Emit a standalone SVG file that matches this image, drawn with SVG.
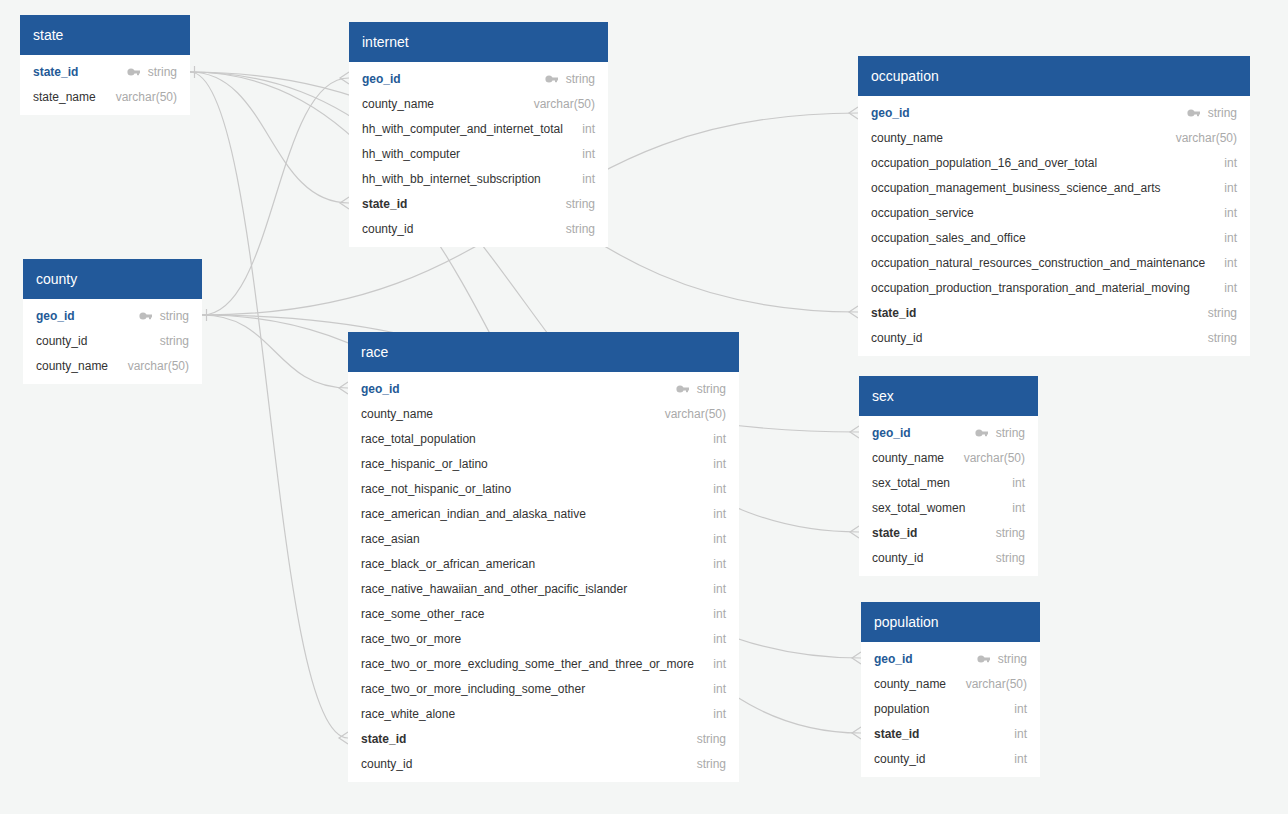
<svg xmlns="http://www.w3.org/2000/svg" xmlns:xlink="http://www.w3.org/1999/xlink" width="1288" height="814" viewBox="0 0 1288 814">
<style>
.bg{fill:#f4f6f5}
.hd{fill:#22599a}
.bd{fill:#ffffff}
.ht{font-family:"Liberation Sans",Arial,sans-serif;font-size:14px;fill:#ffffff}
.n{font-family:"Liberation Sans",Arial,sans-serif;font-size:12px;fill:#333333}
.pk{font-family:"Liberation Sans",Arial,sans-serif;font-size:12px;fill:#245a96;font-weight:bold}
.fk{font-family:"Liberation Sans",Arial,sans-serif;font-size:12px;fill:#333333;font-weight:bold}
.t{font-family:"Liberation Sans",Arial,sans-serif;font-size:12px;fill:#aaaaaa;text-anchor:end}
.c{fill:none;stroke:#c9c9c9;stroke-width:1.2}
</style>
<defs>
<g id="key" fill="#bdbdbd">
<circle cx="4" cy="0" r="3.6"/>
<rect x="6" y="-1.5" width="7" height="3"/>
<rect x="10" y="1" width="2" height="2.2"/>
</g>
<path id="foot" d="M0,-6 L-9,0 L0,6" fill="none" stroke="#c9c9c9" stroke-width="1.2"/>
</defs>
<rect class="bg" x="0" y="0" width="1288" height="814"/>

<g id="connectors">
<!-- state.state_id -->
<path class="c" d="M190,72 C269.5,72 269.5,203 349,203"/>
<path class="c" d="M190,72 C269,72 269,738 348,738"/>
<path class="c" d="M190,72 C524,72 524,312 858,312"/>
<path class="c" d="M190,72 C524.5,72 524.5,532 859,532"/>
<path class="c" d="M190,72 C525.5,72 525.5,733 861,733"/>
<line class="c" x1="194.5" y1="66" x2="194.5" y2="78"/>
<!-- county.geo_id -->
<path class="c" d="M202,315 C275.5,315 275.5,78 349,78"/>
<path class="c" d="M202,315 C275,315 275,388 348,388"/>
<path class="c" d="M202,315 C530,315 530,113 858,113"/>
<path class="c" d="M202,315 C530.5,315 530.5,432 859,432"/>
<path class="c" d="M202,315 C531.5,315 531.5,658 861,658"/>
<line class="c" x1="206.5" y1="309" x2="206.5" y2="321"/>
<use href="#foot" x="349" y="78"/>
<use href="#foot" x="349" y="203"/>
<use href="#foot" x="858" y="113"/>
<use href="#foot" x="858" y="312"/>
<use href="#foot" x="348" y="388"/>
<use href="#foot" x="348" y="738"/>
<use href="#foot" x="859" y="432"/>
<use href="#foot" x="859" y="532"/>
<use href="#foot" x="861" y="658"/>
<use href="#foot" x="861" y="733"/>
</g>

<g id="state" transform="translate(20,15)">
<rect class="bd" x="0" y="40" width="170" height="60"/>
<rect class="hd" x="0" y="0" width="170" height="40"/>
<text class="ht" x="13" y="25">state</text>
<text class="pk" x="13" y="61">state_id</text><use href="#key" x="107" y="57"/><text class="t" x="157" y="61">string</text>
<text class="n" x="13" y="86">state_name</text><text class="t" x="157" y="86">varchar(50)</text>
</g>

<g id="internet" transform="translate(349,22)">
<rect class="bd" x="0" y="40" width="259" height="185"/>
<rect class="hd" x="0" y="0" width="259" height="40"/>
<text class="ht" x="13" y="25">internet</text>
<text class="pk" x="13" y="61">geo_id</text><use href="#key" x="196" y="57"/><text class="t" x="246" y="61">string</text>
<text class="n" x="13" y="86">county_name</text><text class="t" x="246" y="86">varchar(50)</text>
<text class="n" x="13" y="111">hh_with_computer_and_internet_total</text><text class="t" x="246" y="111">int</text>
<text class="n" x="13" y="136">hh_with_computer</text><text class="t" x="246" y="136">int</text>
<text class="n" x="13" y="161">hh_with_bb_internet_subscription</text><text class="t" x="246" y="161">int</text>
<text class="fk" x="13" y="186">state_id</text><text class="t" x="246" y="186">string</text>
<text class="n" x="13" y="211">county_id</text><text class="t" x="246" y="211">string</text>
</g>

<g id="county" transform="translate(23,259)">
<rect class="bd" x="0" y="40" width="179" height="85"/>
<rect class="hd" x="0" y="0" width="179" height="40"/>
<text class="ht" x="13" y="25">county</text>
<text class="pk" x="13" y="61">geo_id</text><use href="#key" x="116" y="57"/><text class="t" x="166" y="61">string</text>
<text class="n" x="13" y="86">county_id</text><text class="t" x="166" y="86">string</text>
<text class="n" x="13" y="111">county_name</text><text class="t" x="166" y="111">varchar(50)</text>
</g>

<g id="occupation" transform="translate(858,56)">
<rect class="bd" x="0" y="40" width="392" height="260"/>
<rect class="hd" x="0" y="0" width="392" height="40"/>
<text class="ht" x="13" y="25">occupation</text>
<text class="pk" x="13" y="61">geo_id</text><use href="#key" x="329" y="57"/><text class="t" x="379" y="61">string</text>
<text class="n" x="13" y="86">county_name</text><text class="t" x="379" y="86">varchar(50)</text>
<text class="n" x="13" y="111">occupation_population_16_and_over_total</text><text class="t" x="379" y="111">int</text>
<text class="n" x="13" y="136">occupation_management_business_science_and_arts</text><text class="t" x="379" y="136">int</text>
<text class="n" x="13" y="161">occupation_service</text><text class="t" x="379" y="161">int</text>
<text class="n" x="13" y="186">occupation_sales_and_office</text><text class="t" x="379" y="186">int</text>
<text class="n" x="13" y="211">occupation_natural_resources_construction_and_maintenance</text><text class="t" x="379" y="211">int</text>
<text class="n" x="13" y="236">occupation_production_transporation_and_material_moving</text><text class="t" x="379" y="236">int</text>
<text class="fk" x="13" y="261">state_id</text><text class="t" x="379" y="261">string</text>
<text class="n" x="13" y="286">county_id</text><text class="t" x="379" y="286">string</text>
</g>

<g id="race" transform="translate(348,332)">
<rect class="bd" x="0" y="40" width="391" height="410"/>
<rect class="hd" x="0" y="0" width="391" height="40"/>
<text class="ht" x="13" y="25">race</text>
<text class="pk" x="13" y="61">geo_id</text><use href="#key" x="328" y="57"/><text class="t" x="378" y="61">string</text>
<text class="n" x="13" y="86">county_name</text><text class="t" x="378" y="86">varchar(50)</text>
<text class="n" x="13" y="111">race_total_population</text><text class="t" x="378" y="111">int</text>
<text class="n" x="13" y="136">race_hispanic_or_latino</text><text class="t" x="378" y="136">int</text>
<text class="n" x="13" y="161">race_not_hispanic_or_latino</text><text class="t" x="378" y="161">int</text>
<text class="n" x="13" y="186">race_american_indian_and_alaska_native</text><text class="t" x="378" y="186">int</text>
<text class="n" x="13" y="211">race_asian</text><text class="t" x="378" y="211">int</text>
<text class="n" x="13" y="236">race_black_or_african_american</text><text class="t" x="378" y="236">int</text>
<text class="n" x="13" y="261">race_native_hawaiian_and_other_pacific_islander</text><text class="t" x="378" y="261">int</text>
<text class="n" x="13" y="286">race_some_other_race</text><text class="t" x="378" y="286">int</text>
<text class="n" x="13" y="311">race_two_or_more</text><text class="t" x="378" y="311">int</text>
<text class="n" x="13" y="336">race_two_or_more_excluding_some_ther_and_three_or_more</text><text class="t" x="378" y="336">int</text>
<text class="n" x="13" y="361">race_two_or_more_including_some_other</text><text class="t" x="378" y="361">int</text>
<text class="n" x="13" y="386">race_white_alone</text><text class="t" x="378" y="386">int</text>
<text class="fk" x="13" y="411">state_id</text><text class="t" x="378" y="411">string</text>
<text class="n" x="13" y="436">county_id</text><text class="t" x="378" y="436">string</text>
</g>

<g id="sex" transform="translate(859,376)">
<rect class="bd" x="0" y="40" width="179" height="160"/>
<rect class="hd" x="0" y="0" width="179" height="40"/>
<text class="ht" x="13" y="25">sex</text>
<text class="pk" x="13" y="61">geo_id</text><use href="#key" x="116" y="57"/><text class="t" x="166" y="61">string</text>
<text class="n" x="13" y="86">county_name</text><text class="t" x="166" y="86">varchar(50)</text>
<text class="n" x="13" y="111">sex_total_men</text><text class="t" x="166" y="111">int</text>
<text class="n" x="13" y="136">sex_total_women</text><text class="t" x="166" y="136">int</text>
<text class="fk" x="13" y="161">state_id</text><text class="t" x="166" y="161">string</text>
<text class="n" x="13" y="186">county_id</text><text class="t" x="166" y="186">string</text>
</g>

<g id="population" transform="translate(861,602)">
<rect class="bd" x="0" y="40" width="179" height="135"/>
<rect class="hd" x="0" y="0" width="179" height="40"/>
<text class="ht" x="13" y="25">population</text>
<text class="pk" x="13" y="61">geo_id</text><use href="#key" x="116" y="57"/><text class="t" x="166" y="61">string</text>
<text class="n" x="13" y="86">county_name</text><text class="t" x="166" y="86">varchar(50)</text>
<text class="n" x="13" y="111">population</text><text class="t" x="166" y="111">int</text>
<text class="fk" x="13" y="136">state_id</text><text class="t" x="166" y="136">int</text>
<text class="n" x="13" y="161">county_id</text><text class="t" x="166" y="161">int</text>
</g>
</svg>
